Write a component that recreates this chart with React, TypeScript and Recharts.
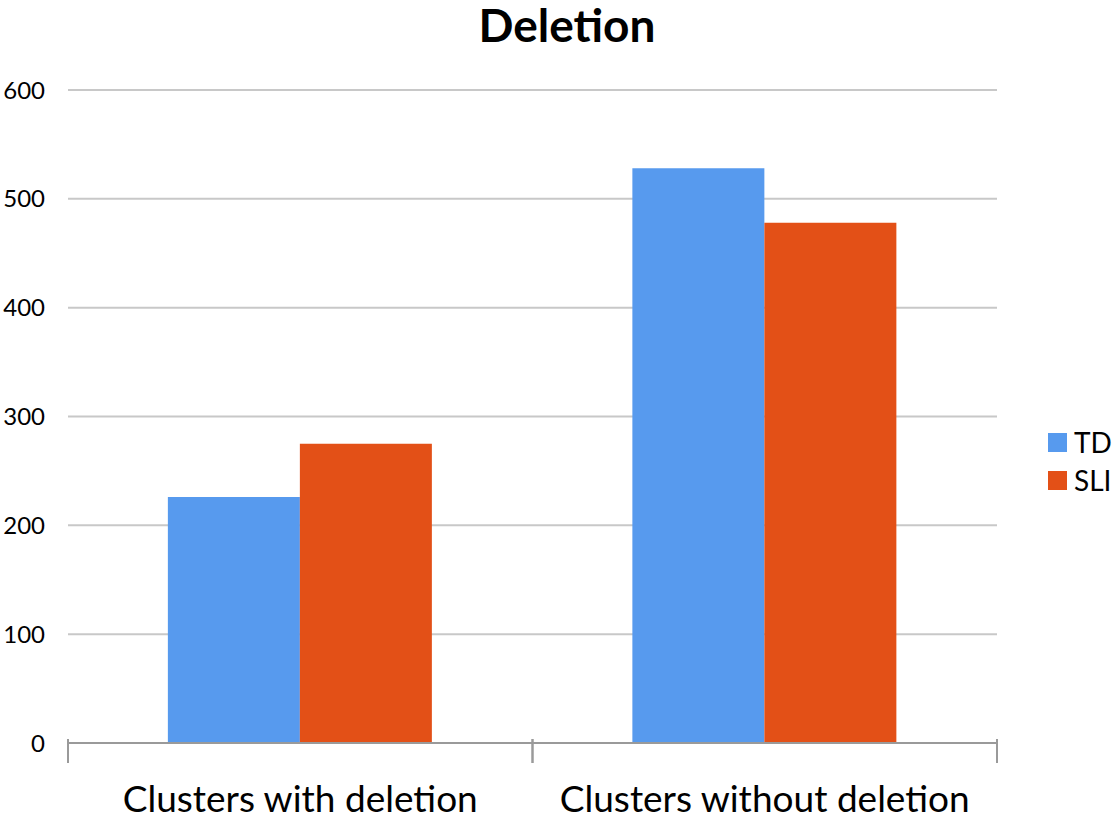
import { BarChart, Bar, CartesianGrid, XAxis, YAxis, Legend } from "recharts"

const categories = ["Clusters with deletion", "Clusters without deletion"]
const tdValues = [226, 528]
const sliValues = [275, 478]
const yTicks = [0, 100, 200, 300, 400, 500, 600]
const seriesOrder = ["TD", "SLI"]

const data = categories.map((name, i) => ({ name, TD: tdValues[i], SLI: sliValues[i] }))

const FONT = "Lato, 'Open Sans', sans-serif"

function CategoryTick(props: any) {
  const { x, y, payload } = props
  const half = payload?.offset ?? 0
  return (
    <g>
      <line x1={x - half} x2={x - half} y1={y - 12} y2={y + 12} stroke="#9a9a9a" strokeWidth={2} />
      <line x1={x + half} x2={x + half} y1={y - 12} y2={y + 12} stroke="#9a9a9a" strokeWidth={2} />
      <text x={x} y={y + 61} textAnchor="middle" fontSize={37} fill="#000" fontFamily={FONT}>
        {payload.value}
      </text>
    </g>
  )
}

function LegendBox(props: any) {
  const items = [...(props.payload || [])].sort(
    (a: any, b: any) => seriesOrder.indexOf(a.value) - seriesOrder.indexOf(b.value)
  )
  return (
    <div style={{ fontFamily: FONT, fontSize: 28, color: "#000" }}>
      {items.map((p: any) => (
        <div key={p.value} style={{ display: "flex", alignItems: "center", height: 38 }}>
          <span style={{ width: 19, height: 19, background: p.color, display: "inline-block", marginRight: 7 }} />
          <span>{p.value}</span>
        </div>
      ))}
    </div>
  )
}

export default function App() {
  return (
    <div style={{ position: "absolute", left: 0, top: 0, width: 1115, height: 817, background: "#fff" }}>
      <div
        style={{
          position: "absolute",
          left: 567,
          top: 0,
          transform: "translateX(-50%)",
          fontFamily: FONT,
          fontWeight: 700,
          fontSize: 46,
          lineHeight: "50px",
          color: "#000",
          whiteSpace: "nowrap",
        }}
      >
        Deletion
      </div>
      <BarChart
        width={1115}
        height={817}
        data={data}
        margin={{ top: 90, right: 51, bottom: 0, left: 0 }}
        barCategoryGap="21.5%"
        barGap={0}
      >
        <CartesianGrid vertical={false} stroke="#c8c8c8" strokeWidth={2} />
        <XAxis
          dataKey="name"
          height={74}
          axisLine={{ stroke: "#9a9a9a", strokeWidth: 2 }}
          tickLine={false}
          tick={<CategoryTick />}
          interval={0}
        />
        <YAxis
          width={68}
          domain={[0, 600]}
          ticks={yTicks}
          axisLine={false}
          tickLine={false}
          tickSize={0}
          tickMargin={23}
          tick={{ fontSize: 24, fill: "#000", fontFamily: FONT }}
        />
        <Legend
          layout="vertical"
          align="right"
          verticalAlign="middle"
          content={<LegendBox />}
          wrapperStyle={{ left: 1048, top: 423, width: 67 }}
        />
        <Bar dataKey="TD" fill="#579AEE" isAnimationActive={false} />
        <Bar dataKey="SLI" fill="#E35017" isAnimationActive={false} />
      </BarChart>
    </div>
  )
}
